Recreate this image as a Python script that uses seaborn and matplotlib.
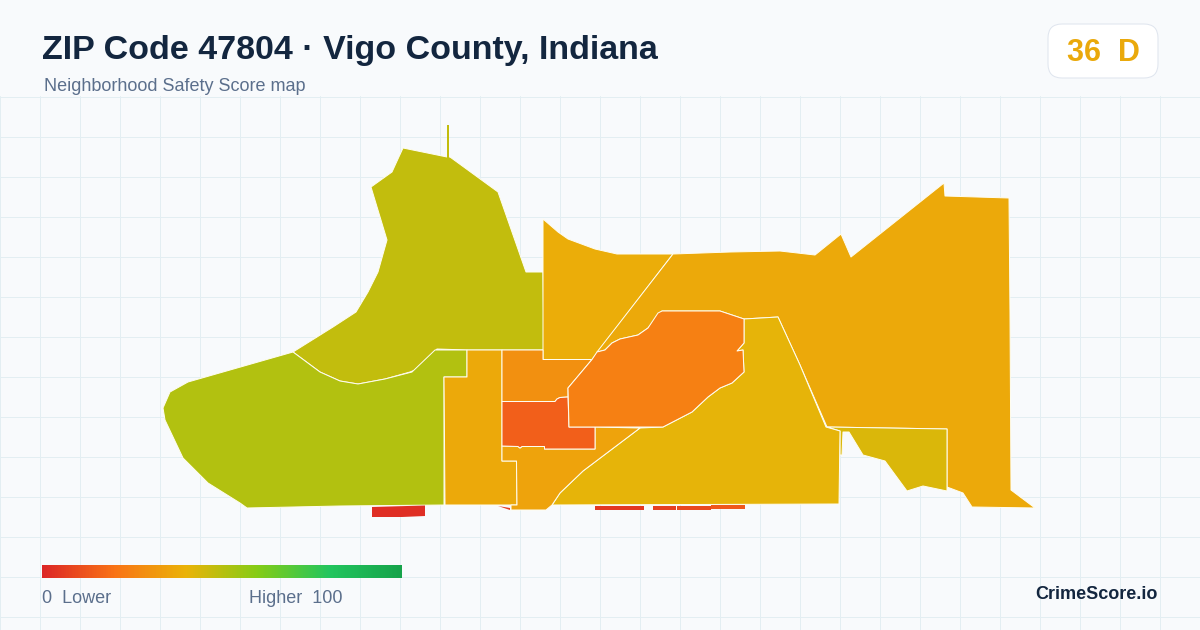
import numpy as np
import matplotlib
matplotlib.use("Agg")
import matplotlib.pyplot as plt
from matplotlib.patches import FancyBboxPatch, Polygon
import seaborn as sns

title = "ZIP Code 47804 · Vigo County, Indiana"
subtitle = "Neighborhood Safety Score map"
badge_text = "36  D"
brand = "CrimeScore.io"

# legend colours, low to high
scale_colors = ["#dc2626", "#f97316", "#eab308", "#84cc16", "#22c55e", "#16a34a"]

# neighborhood outlines, with the score read from the fill
north = [(293, 352), (333, 327), (356, 312), (368, 292), (378, 272), (387, 240), (371, 187), (392, 172),
         (403, 148), (447, 157), (450, 157), (498, 192), (526, 272), (543, 272),
         (544, 350), (467, 350), (437, 349), (415, 370), (410, 372), (385, 379), (358, 384), (340, 381),
         (320, 372)]
north_spike = [(447, 125), (449, 125), (449, 158), (447, 158)]
west = [(293, 352), (320, 372), (340, 381), (358, 384), (385, 379), (412, 372), (435, 350), (467, 350),
        (467, 377), (444, 377), (444, 505), (340, 506), (247, 508), (240, 503), (208, 483), (183, 458),
        (165, 420), (163, 408), (170, 392), (188, 382)]
strip = [(467, 350), (502, 350), (502, 461), (516.5, 461), (517, 505), (445, 505), (444, 377), (467, 377)]
center_north = [(502, 350), (543, 350), (543, 359.5), (592, 359.5), (568, 388), (568, 397), (560, 397.5),
                (557, 399), (555, 401.5), (502, 401.5)]
core = [(502, 401.5), (555, 401.5), (557, 399), (560, 397.5), (568, 397), (569, 427), (595, 427), (595, 449),
        (544.5, 449), (544.5, 446.5), (522, 446.5), (520, 448), (518, 446.5), (502, 446)]
east_core = [(569, 427), (568, 388), (592, 359.5), (597, 352), (605, 350), (612, 343), (620, 339), (638, 335),
             (648, 328), (658, 313), (662, 311), (692, 311), (720, 311), (744, 319), (744, 343), (737, 351),
             (743, 350), (744, 372), (732, 383), (720, 388), (708, 397), (692, 412), (663, 427)]
southeast = [(744, 319), (778, 317), (800, 365), (826, 427), (840, 431), (839, 504), (552, 505), (560, 493),
             (583, 471), (640, 428), (663, 427), (692, 412), (708, 397), (720, 388), (732, 383), (744, 372),
             (743, 350), (737, 351), (744, 343)]
south_center = [(502, 446), (518, 446.5), (520, 448), (522, 446.5), (544.5, 446.5), (544.5, 449), (595, 449),
                (595, 427), (640, 428), (583, 471), (560, 493), (552, 505), (546, 510), (511, 510), (511, 505),
                (517, 505), (516.5, 461), (502, 461)]
north_center = [(543, 219), (558, 232), (568, 239), (595, 249), (617, 254), (673, 254), (592, 359.5), (543, 359.5)]
east = [(673, 254), (730, 252), (780, 251), (815, 255), (841, 234), (851, 257), (944, 183), (945, 196),
        (1009, 198), (1010, 313), (1011, 490), (1035, 508), (972, 507), (963, 493), (947, 487), (947, 429),
        (827, 427), (800, 365), (778, 317), (744, 319), (720, 311), (662, 311), (648, 328), (638, 335),
        (620, 339), (612, 343), (605, 350), (597, 352)]
far_east = [(827, 427), (947, 429), (947, 491), (923, 486), (907, 491), (885, 461), (863, 455), (849, 432),
            (843, 432), (842, 455), (840, 455), (840, 431)]
frag_a = [(372, 507), (425, 505.5), (425, 516), (402, 517), (372, 517)]
frag_b = [(498, 506), (510, 508), (510, 510)]
frag_c = [(595, 506), (644, 506), (644, 510), (595, 510)]
frag_d = [(653, 506), (676, 506), (676, 510), (653, 510)]
frag_e = [(677, 506), (711, 506), (711, 510), (677, 510)]
frag_f = [(711, 505), (745, 505), (745, 509), (711, 509)]

regions = [north, west, north_center, east, far_east, strip, southeast, south_center, center_north, core,
           east_core]
scores = [48, 51, 38, 37, 43, 37, 41, 35, 29, 15, 24]
# slivers along the south edge and the spike carry no outline
slivers = [north_spike, frag_a, frag_b, frag_c, frag_d, frag_e, frag_f]
sliver_scores = [48, 2, 6, 5, 7, 9, 13]

sns.set_theme(style="whitegrid", rc={"figure.facecolor": "#f8fafc", "axes.facecolor": "#f8fafc",
                                     "grid.color": "#e3eef2", "grid.linewidth": 0.72})
plt.rcParams["font.family"] = ["Liberation Sans", "DejaVu Sans"]
cmap = sns.blend_palette(scale_colors, as_cmap=True)

fig = plt.figure(figsize=(12, 6.3), dpi=100)
ax = fig.add_axes([0, 0, 1, 534 / 630])
ax.set_xlim(0, 1200)
ax.set_ylim(630, 96)
ax.set_xticks(np.arange(0, 1200, 40))
ax.set_yticks(np.arange(97, 630, 40))
ax.tick_params(length=0, labelbottom=False, labelleft=False)
sns.despine(ax=ax, left=True, bottom=True)
ax.set_axisbelow(True)

for outline, score in zip(regions, scores):
    ax.add_patch(Polygon(outline, closed=True, facecolor=cmap(score / 100), edgecolor="#fffdf0",
                         linewidth=0.72, joinstyle="round", zorder=3))
for outline, score in zip(slivers, sliver_scores):
    ax.add_patch(Polygon(outline, closed=True, facecolor=cmap(score / 100), edgecolor="none", zorder=3))

ax.text(42, 59, title, fontsize=24.5, fontweight="bold", color="#13263f", va="baseline")
ax.text(44, 91, subtitle, fontsize=12.95, color="#5b6f8c", va="baseline")

ax.add_patch(FancyBboxPatch((1062, 38), 82, 26, boxstyle="round,pad=14", facecolor="white", edgecolor="#dfe5ee",
                            linewidth=0.72, clip_on=False, zorder=3))
ax.text(1103, 61, badge_text, fontsize=22, fontweight="bold", color="#eaa90b", ha="center", va="baseline", zorder=4)

ax.text(42, 603, "0  Lower", fontsize=12.95, color="#5b6f8c", va="baseline")
ax.text(249, 603, "Higher  100", fontsize=12.95, color="#5b6f8c", va="baseline")
ax.text(1158, 599, brand, fontsize=13.0, fontweight="bold", color="#13263f", ha="right", va="baseline")

bar_ax = fig.add_axes([42 / 1200, (630 - 578) / 630, 360 / 1200, 13 / 630])
sns.heatmap(np.linspace(0, 100, 360).reshape(1, -1), ax=bar_ax, cmap=cmap, vmin=0, vmax=100, cbar=False,
            xticklabels=False, yticklabels=False, rasterized=True)

fig.savefig("out.png", dpi=100, facecolor=fig.get_facecolor())
plt.close(fig)
